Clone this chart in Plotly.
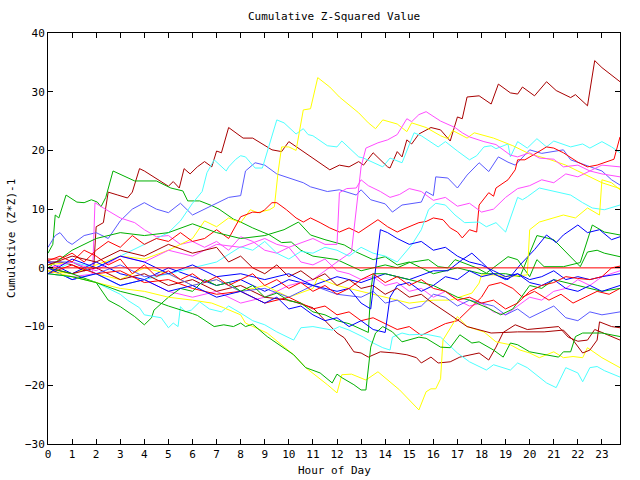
import plotly.graph_objects as go

RED = "#ff0000"; DRED = "#a80000"; GREEN = "#00b000"; BLUE = "#0000ff"
SLATE = "#5a5aff"; MAG = "#ff4cff"; CYAN = "#4cffff"; YEL = "#ffff00"

# ---- series (hour of day, cumulative value) ----
dred_top_h = [0, 0.5, 1, 1.5, 1.9, 2.0, 2.3, 2.5, 2.9, 3.3, 3.5, 3.8, 4.0, 4.5, 5.0, 5.2, 5.45, 5.65, 5.9, 6.2, 6.5, 6.8, 7.0, 7.2, 7.5, 8.1, 8.5, 9.3, 9.7, 10.0, 11.0, 11.7, 12.1, 12.5, 12.9, 13.1, 13.5, 14.1, 14.2, 14.5, 14.7, 14.9, 15.1, 15.4, 15.9, 16.3, 16.7, 17.0, 17.2, 17.4, 17.9, 18.4, 18.7, 19.2, 19.5, 19.7, 20.2, 20.7, 21.1, 21.7, 21.9, 22.4, 22.7, 23.0, 23.75]
dred_top_v = [1, 1, 0.5, -0.5, 0.2, 7, 7.7, 12.9, 12.4, 11.9, 12.9, 16.9, 16.5, 15.2, 13.9, 14.7, 13.6, 16.9, 16.0, 17.2, 18.1, 17.2, 19.9, 19.6, 23.9, 22.1, 22.1, 20.1, 19.8, 21.5, 18.7, 16.7, 17.5, 17.2, 18.1, 17.5, 19.6, 17.2, 17.0, 19.8, 18.9, 21.8, 21.1, 22.8, 23.9, 23.5, 21.6, 25.7, 25.4, 29.1, 29.3, 27.9, 31.3, 29.8, 29.6, 30.8, 29.3, 31.7, 30.2, 29.0, 29.5, 27.6, 35.3, 34.1, 31.7]

yel_spike_h = [0, 1, 2, 3, 4, 5, 6, 6.5, 7, 7.5, 8, 8.4, 8.7, 9.2, 9.4, 9.55, 9.7, 10.0, 10.3, 10.6, 10.9, 11.2, 11.7, 12.1, 12.9, 13.3, 13.6, 13.9, 14.5, 14.9, 15.1, 15.7, 16.3, 16.6, 16.8, 17.4, 17.7, 18.1, 18.5, 19.3, 20.0, 20.8, 21.5, 22.0, 22.5, 23.0, 23.75]
yel_spike_v = [-0.5, -1, 0.5, 2, 1.5, 3, 5, 8, 7, 8.5, 7.7, 9.9, 9.4, 9.9, 10.4, 16.2, 20.6, 20.6, 20.0, 26.9, 27.1, 32.4, 30.8, 29.1, 26.4, 24.7, 23.7, 25.2, 24.5, 23.2, 24.7, 23.9, 22.5, 22.0, 23.4, 22.1, 23.0, 22.5, 22.1, 20.8, 19.4, 18.5, 17.5, 16.5, 15.5, 14.5, 13.5]

cyan_high_h = [0, 1, 2, 3, 4, 5, 5.5, 6, 6.4, 6.6, 6.9, 7.4, 7.5, 7.8, 8.0, 8.2, 8.6, 8.9, 9.5, 9.8, 10.3, 10.6, 10.8, 11.0, 11.6, 12.0, 12.2, 12.9, 13.1, 13.5, 13.9, 14.2, 14.7, 15.2, 15.5, 16.2, 16.5, 17.0, 17.5, 17.8, 18.1, 18.4, 18.6, 19.1, 19.2, 19.5, 19.9, 20.3, 20.7, 21.0, 21.7, 22.2, 22.5, 23.0, 23.4, 23.75]
cyan_high_v = [-1, 1, 0, 2, 4, 6, 8, 11, 13, 16.2, 18.4, 16.5, 17.2, 18.5, 19.1, 18.9, 17.0, 17.0, 25.2, 24.7, 22.8, 23.7, 22.7, 22.5, 20.8, 20.6, 21.6, 18.9, 18.7, 18.0, 17.2, 18.7, 17.9, 23.0, 22.5, 20.6, 21.5, 19.9, 18.4, 19.1, 20.6, 20.8, 20.3, 21.1, 18.9, 21.5, 20.4, 22.0, 20.6, 21.6, 20.6, 21.1, 20.4, 21.5, 20.6, 19.6]

mag_high_h = [0, 1, 2, 3, 4, 5, 6, 7, 8, 9, 10, 11, 12, 12.6, 13.0, 13.2, 13.7, 14.1, 14.5, 14.9, 15.1, 15.4, 15.7, 16.3, 16.9, 17.2, 17.5, 18.1, 18.6, 19.2, 19.5, 20.0, 20.4, 21.0, 21.4, 22.0, 22.5, 23.0, 23.75]
mag_high_v = [-1, -1.5, -1, -3, -2, -4, -5, -4, -6, -5, -3, -2, 1, 2.7, 17.2, 20.4, 21.3, 21.8, 22.7, 25.4, 24.9, 26.1, 26.6, 25.0, 23.9, 23.0, 22.3, 21.5, 21.0, 19.2, 18.9, 19.6, 18.7, 18.5, 17.2, 17.5, 16.5, 17.5, 17.2]

slate_high_h = [0, 0.3, 0.5, 0.8, 1, 1.5, 2, 2.5, 3, 3.5, 4, 4.5, 5, 5.5, 6, 6.5, 7, 7.5, 8, 8.2, 8.6, 9, 9.5, 10.6, 10.9, 11.6, 12.1, 12.8, 13.0, 13.4, 14.0, 14.3, 14.7, 15.1, 15.5, 15.7, 16.0, 16.1, 16.6, 17.0, 17.4, 17.9, 18.3, 18.7, 19.1, 19.4, 20.0, 20.5, 21.4, 21.7, 22.6, 23.0, 23.4, 23.75]
slate_high_v = [3.5, 5.5, 6, 4.5, 4, 5.5, 6, 5, 8, 10, 11.1, 10, 9.4, 11, 9, 10, 11, 12, 12.3, 16.5, 17.9, 17.5, 16, 14.5, 13.8, 13, 13.3, 12.4, 13.3, 11.6, 10.9, 9.5, 10.7, 11.0, 11.2, 13.0, 12.3, 15.5, 15.3, 13.6, 15.8, 17.9, 16.4, 18.9, 18.0, 17.5, 20.1, 19.5, 20.1, 18.4, 17.0, 16.5, 15.0, 14.1]

red_high_h = [0, 0.5, 1, 1.5, 2, 2.5, 3, 3.5, 4, 4.5, 5, 5.5, 6, 6.5, 7, 7.5, 8, 8.5, 8.8, 9.0, 9.3, 9.5, 9.9, 10.3, 10.6, 10.9, 11.3, 11.7, 12.1, 12.5, 12.9, 13.2, 13.5, 13.7, 14.1, 14.5, 14.7, 15.4, 15.7, 16.0, 16.4, 16.7, 17.0, 17.2, 17.5, 17.8, 17.9, 18.3, 18.5, 18.6, 19.1, 19.4, 19.5, 19.8, 20.3, 20.7, 21.0, 21.4, 22.0, 22.4, 22.8, 23.2, 23.5, 23.75]
red_high_v = [1.5, 1.5, 2.5, 1, 3, 4.5, 3.5, 5.5, 4, 5, 4.5, 6, 4.5, 5, 6.5, 5, 8.7, 9.5, 9.4, 9.9, 11.1, 11.1, 9.9, 8.5, 7.8, 8.5, 7.7, 6.8, 6.1, 6.8, 6.0, 6.8, 7.7, 8.2, 7.0, 6.1, 6.5, 7.7, 7.9, 8.5, 8.2, 6.8, 6.1, 5.1, 6.5, 6.1, 10.7, 12.8, 12.2, 13.6, 15.0, 16.7, 18.4, 18.4, 19.6, 20.6, 20.4, 19.6, 18.0, 17.2, 17.5, 18.0, 18.5, 22.3]

cyan_mid_h = [0, 1, 2, 3, 4, 5, 6, 7, 8, 8.5, 9, 9.5, 10, 10.5, 11, 11.5, 12, 12.5, 13, 13.5, 14, 14.5, 15.1, 15.5, 15.8, 16.1, 16.5, 16.9, 17.3, 17.9, 18.2, 18.6, 19.0, 19.5, 19.7, 19.9, 20.4, 21.1, 21.7, 22.2, 22.6, 23.1, 23.75]
cyan_mid_v = [0, -2, -1, -3, -2, -1, 0, 1, 3.6, 3, 4.5, 2.5, 1.5, 2.8, 2.5, 3.5, 3, 2, 3.5, 2.5, 2, 1, 3.9, 6.5, 9.9, 11, 10.7, 9.0, 7.7, 7.8, 7.0, 7.7, 6.1, 12.0, 11.6, 12.1, 13.6, 12.9, 12.4, 11.1, 10.2, 9.9, 10.7]

yel_mid_h = [0, 1, 2, 3, 4, 5, 6, 7, 8, 9, 10, 11, 11.2, 12, 13, 14, 15, 16, 16.7, 17.6, 17.9, 18.0, 18.5, 19.1, 19.9, 20.0, 20.4, 21.4, 21.9, 22.4, 22.9, 23.0, 23.4, 23.75]
yel_mid_v = [0.5, 1, -1, -2, 0, -1, -3, -2, -4, -3, -5, -3.5, -1.7, -3, -4, -5, -6, -5.5, -5.5, -4.3, -2.6, -1.2, -1.2, -1.5, -1.2, 6.5, 7.8, 9.0, 8.5, 10.2, 9.0, 15.0, 14.5, 13.3]

green_early_h = [0, 0.2, 0.3, 0.45, 0.75, 1.2, 1.5, 1.8, 2.05, 2.2, 2.4, 2.7, 3.6, 3.9, 4.5, 5.1, 5.6, 5.8, 6.3, 6.8, 7.1, 7.7, 8.0, 8.5, 9.2, 9.7, 10.1, 10.5, 11, 12, 12.5, 13, 14, 14.5, 15, 15.8, 16.2, 16.6, 16.9, 17.2, 17.8, 18.2, 19.1, 19.5, 20.0, 20.3, 20.6, 21.4, 22.1, 22.6, 23.1, 23.75]
green_early_v = [2.5, 4, 9, 8.5, 12.4, 11.2, 11.1, 11.6, 11.2, 10.4, 12.0, 16.5, 14.8, 14.8, 14.8, 13.6, 13.1, 11.4, 11.4, 10.6, 10.0, 8.3, 7.8, 6.8, 5.6, 4.3, 4.4, 3.0, 2, 1.4, 0.5, -0.5, 0.5, 0, 0.9, 1.4, 0.2, 0, 1.4, 0.9, 0, -0.9, 1.9, 1.4, -1.5, 1.4, 0.2, 0.2, 0.9, 7.3, 6.1, 5.6]

green_mid_h = [0, 1, 2, 3, 4, 5, 6, 7, 8, 9, 9.8, 10.4, 10.9, 11.5, 12.3, 12.8, 13.5, 14, 14.5, 15, 16, 17, 18, 19, 19.6, 20.0, 20.3, 21.0, 22.1, 22.4, 22.8, 23.1, 23.75]
green_mid_v = [0, 3, 5, 6, 5.5, 6, 7.5, 6, 5, 5.5, 6.5, 7.8, 5.6, 4.8, 3.9, 2.7, 1.4, 1.9, 0.5, 1, -1, 0, -1, -1, -1.5, 2.5, 5.5, 4.8, 0.2, 2.7, 3, 2.5, 1.9]

blue_mid_h = [0, 1, 2, 3, 4, 5, 6, 7, 8, 9, 10, 11, 12, 13, 14, 15, 16, 16.6, 17.2, 17.6, 18.0, 18.5, 19.1, 19.6, 20.2, 20.7, 21.1, 21.4, 22.0, 22.4, 22.9, 23.4, 23.75]
blue_mid_v = [1, -1, 1, -1, -2, 0, -1.5, -3, -2, -4, -2, -3, -1.5, -2.5, -1, -2, -0.5, -0.5, 1.4, 2.5, 1, -1, -2, 0.5, 3.1, 5.6, 4.3, 5.6, 7.3, 6, 6.5, 4.8, 5.3]

yel_low_h = [0, 0.5, 1, 2, 3, 4, 5, 6, 6.8, 7.3, 8.0, 8.2, 9.1, 10.2, 10.7, 11.6, 12.0, 12.2, 12.6, 13.2, 13.7, 14.6, 15.4, 15.7, 15.9, 16.1, 16.3, 16.4, 17.0, 17.4, 18.1, 18.6, 19.2, 19.6, 20.0, 20.4, 21.0, 21.4, 21.8, 22.2, 22.4, 23.0, 23.75]
yel_low_v = [-0.5, -1, -1.5, -2.5, -3.5, -4, -5, -5.5, -6, -6.8, -8, -9.4, -11.1, -14.8, -17, -19.9, -21.3, -18.2, -18.1, -19.1, -17.7, -20.8, -24.2, -21.1, -20.6, -20.6, -18.9, -12.3, -8.3, -10, -10.9, -12.6, -13.1, -14, -14.5, -15.3, -14.3, -15.3, -15.1, -15.3, -13.6, -15.3, -17]

green_low_h = [0, 1, 2, 3, 4, 5, 6, 6.2, 6.9, 7.3, 7.7, 8.0, 8.2, 8.5, 9.1, 10.2, 10.7, 11.3, 11.8, 12.0, 12.2, 12.7, 13.0, 13.2, 13.4, 13.6, 13.9, 14.3, 14.7, 15.0, 15.4, 15.7, 16.3, 16.7, 17.1, 17.6, 17.9, 18.5, 18.9, 19.2, 19.5, 20.0, 20.6, 21.2, 21.4, 21.7, 21.9, 22.2, 23.0, 23.4, 23.75]
green_low_v = [-1, -1.5, -2.5, -4, -5, -6.5, -7.8, -8.1, -10, -9.7, -10, -9.4, -10, -9.6, -11.7, -14.8, -17, -17.9, -19.6, -18.1, -18.7, -19.9, -20.8, -20.8, -13.5, -11.1, -10, -10.9, -12.6, -12.3, -11.8, -12, -13.5, -13.6, -11.4, -12.8, -12.6, -14, -15.2, -12.8, -13.1, -14.3, -14.8, -15.2, -14.3, -14.3, -11.7, -11.1, -11.1, -11.4, -11.7]

cyan_low_h = [0, 1, 2, 3, 3.3, 3.8, 4.0, 4.4, 4.7, 5.0, 5.2, 5.4, 5.5, 5.7, 5.95, 6.3, 6.7, 7.2, 7.5, 8.0, 8.5, 9.0, 9.5, 10.2, 10.5, 11.0, 11.8, 12.1, 12.5, 13.1, 13.5, 13.9, 14.2, 14.3, 14.7, 15.0, 15.7, 16.3, 16.7, 17.0, 17.5, 18.2, 18.5, 19.2, 19.5, 19.9, 20.7, 21.1, 21.5, 22.0, 22.2, 22.5, 22.8, 23.1, 23.75]
cyan_low_v = [-1, -1.5, -2.5, -4.5, -5.5, -6.8, -8, -8.3, -8.5, -10.2, -9.4, -10, -6.6, -7.5, -7.2, -5.8, -7, -7.5, -6.5, -7.7, -9, -9.7, -10.9, -12.3, -10.2, -10, -10.6, -10.0, -10.6, -11.8, -12.8, -13.6, -14.0, -11.8, -11.1, -11.4, -11.3, -11.8, -13.4, -14.5, -16, -17.4, -16.5, -17.4, -16.2, -17, -19.6, -20.4, -17, -17.9, -19.4, -17, -16.8, -17.5, -18.6]

green_jump_h = [0, 1, 2, 2.5, 3, 3.6, 4.0, 4.3, 4.4, 5, 5.5, 6, 6.5, 7, 7.5, 8, 8.5, 9, 9.5, 10, 10.5, 11, 11.5, 12, 12.5, 13, 13.3, 13.4, 13.5, 14, 15, 16, 17, 17.5, 18.3, 18.8, 19.3, 19.8, 20, 20.5, 21, 22, 23, 23.75]
green_jump_v = [0, -1, -2.5, -5.5, -6.6, -8.3, -9.7, -8.5, -7.2, -5, -3.5, -4, -2, -3, -2.5, -4, -3, -5, -4.3, -5.6, -6, -7.5, -8, -9, -9.5, -10.5, -11, -4, -1, -1, -2, -3, -5, -5.5, -6.9, -8, -7, -4, -3, -3.5, -2, -3, -4, -3.5]

dred_low_h = [0, 1, 2, 3, 4, 5, 6, 7, 8, 9, 10, 10.6, 11.0, 11.6, 12.0, 12.3, 12.7, 13.0, 13.3, 13.8, 14.4, 14.9, 15.3, 15.5, 15.9, 16.2, 16.7, 17.1, 17.9, 18.3, 18.6, 18.9, 19.4, 19.9, 20.6, 21.2, 21.6, 22.0, 22.4, 22.7, 23.0, 23.75]
dred_low_v = [0, -1, 0, -2, -1, -3, -2, -4, -3, -5, -5.5, -6.3, -6.8, -9.4, -11.1, -11.9, -14.3, -14.5, -15.2, -14.3, -14.5, -14.8, -15.3, -16.2, -15.2, -16.2, -16.0, -15.2, -14.5, -15.7, -13.5, -11.0, -9.7, -10.5, -10.2, -10.0, -11.8, -12.5, -12.3, -10.5, -11.0, -12.3]

dred_mid_h = [0, 1, 2, 3, 4, 5, 6, 7, 7.5, 8, 8.5, 9, 9.5, 10, 10.5, 11, 11.5, 12, 12.5, 13, 13.5, 14, 14.5, 15, 15.5, 15.9, 16.7, 17.4, 18.4, 19.5, 20.6, 21.4, 21.8, 22.2, 22.5, 22.8, 22.9, 23.4, 23.75]
dred_mid_v = [0.5, 2, 1, 3, 2, 4, 2.5, 3.5, 1, 2, 0, -1, 0.5, -1.5, -0.5, -2, -1, -3, -2, -3.5, -3, -4.5, -3.5, -5, -4.5, -5.8, -8, -10, -11.1, -10.9, -10.9, -10.6, -12.3, -14.5, -14, -12.3, -9.2, -10, -10.2]

slate_low_h = [0, 1, 2, 3, 4, 5, 6, 7, 8, 9, 10, 11, 12, 13, 13.5, 14, 14.5, 15, 15.5, 16, 16.5, 17, 17.5, 18, 18.5, 19, 19.5, 20, 20.5, 21, 21.5, 22, 22.5, 23, 23.75]
slate_low_v = [1, 1, -1, 0.5, -1.5, -1, -3, -2, -4, -3.5, -5, -3, -4.5, -5, -4, -6, -5.5, -7, -6.5, -4.5, -5, -6.5, -5.5, -6, -6.5, -8, -7, -8.5, -7.5, -6.5, -8.5, -9, -7.5, -8, -7.5]

red_low_h = [0, 1, 2, 3, 4, 5, 6, 7, 8, 9, 10, 11, 11.5, 12, 12.5, 13, 13.5, 14, 14.5, 15, 15.5, 16, 16.5, 17, 17.5, 18, 18.3, 18.8, 19.3, 19.7, 20.2, 20.8, 21.3, 21.8, 22.3, 22.8, 23.3, 23.75]
red_low_v = [-1, 0.5, -1, -0.5, -2.5, -2, -3.5, -4.5, -4, -6, -5, -7, -6.5, -8, -7.5, -9, -8.5, -9.5, -10.5, -10, -11.5, -10.5, -9.5, -9, -7, -5, -3, -2.5, -3.5, -5, -4, -5.5, -4.5, -6, -5, -4, -4.5, -3.5]

blue_low_h = [0, 0.5, 1, 2, 3, 4, 5, 6, 7, 8, 9, 9.5, 10, 10.5, 11, 11.5, 12, 12.5, 13, 13.5, 14, 14.2, 14.5, 15, 15.5, 16, 16.5, 17, 17.5, 18, 18.5, 19, 19.5, 20, 20.5, 21, 21.5, 22, 22.5, 23, 23.75]
blue_low_v = [0, -1, -2, -1, -3, -2, -4, -3, -5, -4, -6, -5, -7, -6.5, -8, -9, -8.5, -10, -9, -10.5, -11, -5, -3, -2.5, -4, -3, -1.5, -2, -0.5, -1.5, -1, -2, -1, -2.5, -3, -2, -3.5, -4, -3, -4, -3]

blue_jump_h = [0, 1, 2, 3, 4, 5, 6, 7, 8, 9, 10, 11, 12, 12.5, 13, 13.4, 13.8, 14.1, 14.5, 15, 15.5, 16, 16.5, 17, 17.5, 18, 18.5, 19, 19.5, 20, 20.5, 21, 21.5, 22, 22.5, 23, 23.75]
blue_jump_v = [-1, 1.5, 0, 2, 1, -1, 0.5, -1.5, -1, -2, -1, -3, -4, -3.5, -6, -7, 6.5, 6, 5, 4, 4.5, 3, 3.5, 2, 1, 0.5, -0.5, -1.5, -1, -2, -1.5, -0.5, -2, -1.5, -2, -1.5, -1]

mag_mid_h = [0, 1, 2, 3, 4, 5, 6, 7, 8, 9, 9.5, 10, 11, 11.5, 12.0, 12.1, 12.4, 12.8, 13.0, 13.3, 13.8, 14.2, 14.6, 15.0, 15.5, 16, 16.5, 17, 17.5, 18, 18.5, 19, 19.5, 20, 20.5, 21, 21.5, 22, 22.5, 23, 23.75]
mag_mid_v = [0, 1, -0.5, 2, 1, 3, 2, 4, 3.5, 5, 4, 3.5, 5, 4, 4, 12.8, 13.5, 13.6, 15, 14, 13, 12, 12.5, 13.5, 13, 11.5, 12, 10.5, 11, 9.5, 10, 12, 13.5, 14, 15, 14.5, 16, 15.5, 16.5, 16, 15.5]

mag_low_h = [0, 0.5, 1, 1.5, 1.85, 1.95, 2.3, 3, 3.6, 4, 4.5, 5, 5.5, 6, 6.5, 7, 7.5, 8, 8.5, 9, 9.5, 10, 10.5, 11, 11.5, 12, 12.5, 13, 13.5, 14, 14.5, 15, 15.5, 16, 16.5, 17, 17.5, 18, 18.5, 19, 19.5, 20, 20.5, 21, 21.5, 22, 22.5, 23, 23.75]
mag_low_v = [-0.5, -1, -2, -1.5, -1, 11.1, 10.2, 8.5, 7.7, 6.5, 5.3, 5.5, 4, 4.5, 3.5, 4.5, 3, 5.3, 4.5, 3, 2.5, 3.5, 1, 0.5, 1.5, -0.5, -1, -2, -1.5, -3, -2.5, -4, -3.5, -5, -4, -5.5, -6.5, -6, -7.5, -8, -6.5, -5, -5.5, -4, -3.5, -2, -3, -1.5, -0.5]

red_zero_end_h = [0, 0.5, 1, 1.5, 2, 2.5, 3, 3.5, 4, 4.5, 5, 5.5, 6, 6.5, 7, 7.5, 8, 8.5, 9, 9.5, 10, 10.5, 11, 11.5, 12, 12.5, 13, 13.5, 14, 14.5, 15, 15.5, 16, 16.5, 17, 17.5, 18, 18.5, 19, 19.5, 20, 20.5, 21, 21.5, 22, 22.5, 23, 23.4, 23.75]
red_zero_end_v = [1.2, 2, 1, 3, 2, 0.5, 1.5, -1, 0.5, -1.5, -0.5, -2, -1, -2.5, -1.5, -3, -2, -1, -3, -2, -3.5, -2.5, -4, -3, -4.5, -3.5, -2, -1, -2.5, -1.5, -3, -2, -3.5, -4, -5.5, -5, -6, -5.5, -7, -6, -4, -3, -2.5, -1.5, -1.8, -2, -1.5, 0, 0.3]

baseline_h = [0, 23.75]
baseline_v = [0, 0]

x_ticks = list(range(0, 24))
y_ticks = [-30, -20, -10, 0, 10, 20, 30, 40]

series = [
    (dred_top_h, dred_top_v, DRED),
    (green_early_h, green_early_v, GREEN),
    (slate_high_h, slate_high_v, SLATE),
    (mag_low_h, mag_low_v, MAG),
    (cyan_high_h, cyan_high_v, CYAN),
    (yel_spike_h, yel_spike_v, YEL),
    (red_high_h, red_high_v, RED),
    (green_mid_h, green_mid_v, GREEN),
    (blue_mid_h, blue_mid_v, BLUE),
    (mag_high_h, mag_high_v, MAG),
    (cyan_mid_h, cyan_mid_v, CYAN),
    (yel_mid_h, yel_mid_v, YEL),
    (dred_low_h, dred_low_v, DRED),
    (slate_low_h, slate_low_v, SLATE),
    (red_low_h, red_low_v, RED),
    (green_jump_h, green_jump_v, GREEN),
    (blue_low_h, blue_low_v, BLUE),
    (mag_mid_h, mag_mid_v, MAG),
    (cyan_low_h, cyan_low_v, CYAN),
    (yel_low_h, yel_low_v, YEL),
    (dred_mid_h, dred_mid_v, DRED),
    (green_low_h, green_low_v, GREEN),
    (blue_jump_h, blue_jump_v, BLUE),
    (red_zero_end_h, red_zero_end_v, RED),
    (baseline_h, baseline_v, RED),
]

fig = go.Figure()
for hx, vy, col in series:
    fig.add_trace(go.Scatter(x=hx, y=vy, mode="lines",
                             line=dict(color=col, width=1), hoverinfo="skip"))

FONT = "DejaVu Sans Mono"
axis_common = dict(showline=True, linecolor="black", linewidth=1, mirror="ticks",
                   ticks="inside", ticklen=5, tickcolor="black", showgrid=False,
                   zeroline=False, tickfont=dict(family=FONT, size=11, color="black"))

fig.update_layout(
    width=640, height=480,
    margin=dict(l=48, r=20, t=33, b=36),
    paper_bgcolor="white", plot_bgcolor="white",
    showlegend=False,
    title=dict(text="Cumulative Z-Squared Value", x=0.522, xanchor="center",
               y=1 - 16 / 480, yanchor="middle", yref="container",
               font=dict(family=FONT, size=11, color="black")),
    xaxis=dict(range=[0, 23.75], tickvals=x_ticks, **axis_common),
    yaxis=dict(range=[-30, 40], tickvals=y_ticks, **axis_common),
    annotations=[
        dict(text="Hour of Day", xref="paper", yref="paper", x=0.5, y=-0.065,
             xanchor="center", yanchor="middle", showarrow=False,
             font=dict(family=FONT, size=11, color="black")),
        dict(text="Cumulative (Z*Z)-1", xref="paper", yref="paper", x=-0.064, y=0.5,
             xanchor="center", yanchor="middle", showarrow=False, textangle=-90,
             font=dict(family=FONT, size=11, color="black")),
    ],
)

fig.write_html("out.html")
